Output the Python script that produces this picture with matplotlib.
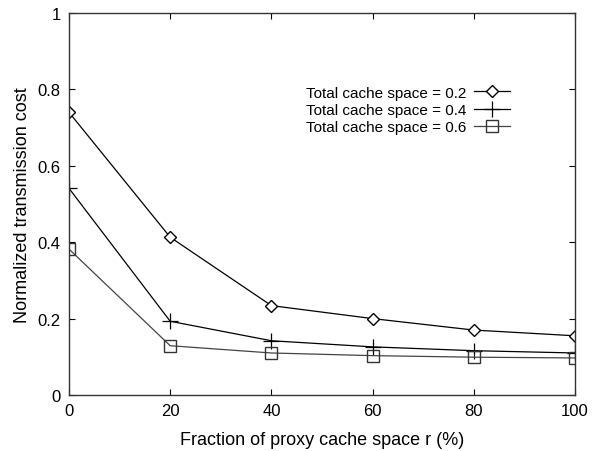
import matplotlib
matplotlib.use("Agg")
import matplotlib.pyplot as plt

plt.rcParams["font.family"] = ["Liberation Sans", "DejaVu Sans"]

x_vals = [0, 20, 40, 60, 80, 100]
cost_02 = [0.740, 0.413, 0.234, 0.200, 0.170, 0.155]
cost_04 = [0.541, 0.193, 0.142, 0.126, 0.116, 0.110]
cost_06 = [0.382, 0.129, 0.110, 0.103, 0.099, 0.097]
labels = ["Total cache space = 0.2", "Total cache space = 0.4", "Total cache space = 0.6"]

fig = plt.figure(figsize=(5.92, 4.52), dpi=100)
ax = fig.add_axes([69 / 592, 56 / 452, 506 / 592, 382 / 452])

ax.plot(x_vals, cost_02, color="black", lw=0.9, marker="D", ms=5.8,
        mfc="white", mec="black", mew=1.0, label=labels[0])
ax.plot(x_vals, cost_04, color="black", lw=0.9, marker="+", ms=11,
        mec="black", mew=0.9, label=labels[1])
ax.plot(x_vals, cost_06, color="#444444", lw=0.9, marker="s", ms=8,
        mfc="none", mec="#333333", mew=1.0, label=labels[2])

ax.set_xlim(0, 100)
ax.set_ylim(0, 1)
ax.set_xticks([0, 20, 40, 60, 80, 100])
ax.set_yticks([0, 0.2, 0.4, 0.6, 0.8, 1])
ax.set_yticklabels(["0", "0.2", "0.4", "0.6", "0.8", "1"])
ax.tick_params(direction="in", length=4, width=0.8, labelsize=12,
               top=True, right=True, pad=6)
for s in ax.spines.values():
    s.set_linewidth(1.0)
    s.set_color("#333333")

ax.set_xlabel("Fraction of proxy cache space r (%)", fontsize=13, labelpad=9)
ax.set_ylabel("Normalized transmission cost", fontsize=13, labelpad=5)

ax.legend(loc="upper right", bbox_to_anchor=(0.887, 0.83), markerfirst=False,
          frameon=False, fontsize=11, handlelength=2.4, labelspacing=0.22,
          handletextpad=0.5, borderpad=0)

fig.savefig("out.png", dpi=100)
